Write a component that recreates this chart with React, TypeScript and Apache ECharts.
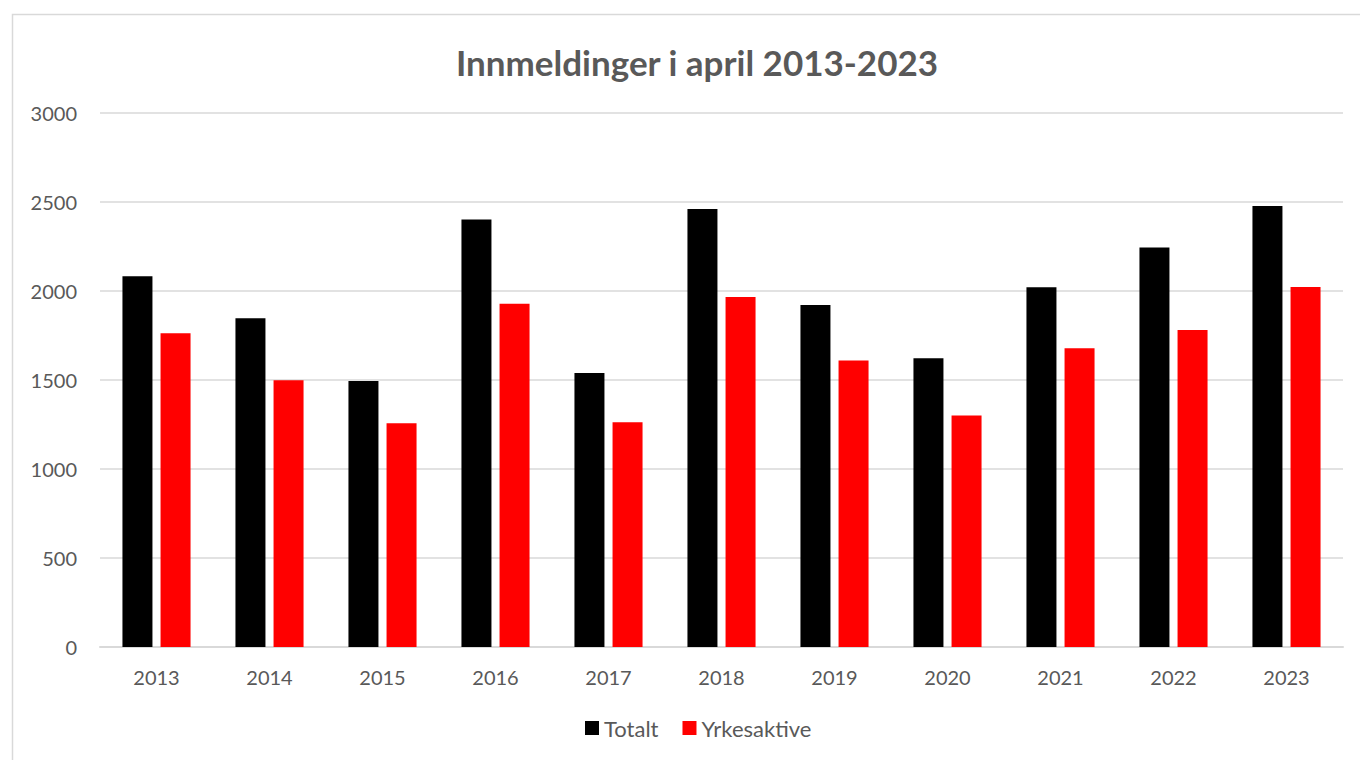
import React, { useEffect, useRef } from "react";
import * as echarts from "echarts";

const years = ["2013", "2014", "2015", "2016", "2017", "2018", "2019", "2020", "2021", "2022", "2023"];
const totalt = [2083, 1847, 1494, 2401, 1539, 2461, 1921, 1622, 2021, 2245, 2478];
const yrkesaktive = [1762, 1498, 1257, 1929, 1262, 1966, 1610, 1301, 1678, 1781, 2022];
const titleText = "Innmeldinger i april 2013-2023";

const FONT = "Lato, 'Open Sans', sans-serif";
const GRAY = "#595959";

export default function App() {
  const ref = useRef<HTMLDivElement>(null);
  useEffect(() => {
    document.body.style.margin = "0";
    const chart = echarts.init(ref.current!, null, { renderer: "svg" });
    chart.setOption({
      animation: false,
      backgroundColor: "#ffffff",
      title: {
        text: titleText,
        left: 692,
        top: 39,
        textAlign: "center",
        textStyle: { fontFamily: FONT, fontSize: 35, fontWeight: "bold", color: GRAY },
      },
      graphic: [
        {
          type: "rect",
          shape: { x: 12.5, y: 14.5, width: 1400, height: 800 },
          style: { fill: "none", stroke: "#d9d9d9", lineWidth: 1.5 },
          silent: true,
        },
      ],
      legend: {
        bottom: 16,
        left: 580,
        itemWidth: 14,
        itemHeight: 14,
        itemGap: 24,
        icon: "rect",
        textStyle: { fontFamily: FONT, fontSize: 22, color: GRAY },
        data: ["Totalt", "Yrkesaktive"],
      },
      grid: { left: 100, right: 17, top: 113, bottom: 113 },
      xAxis: {
        type: "category",
        data: years,
        axisLine: { lineStyle: { color: "#d9d9d9", width: 2 } },
        axisTick: { show: false },
        axisLabel: { fontFamily: FONT, fontSize: 20, color: GRAY, margin: 20 },
      },
      yAxis: {
        type: "value",
        min: 0,
        max: 3000,
        interval: 500,
        axisLine: { show: false },
        axisTick: { show: false },
        axisLabel: {
          fontFamily: FONT,
          fontSize: 20,
          color: GRAY,
          margin: 23,
          formatter: (v: number) => String(v),
        },
        splitLine: { lineStyle: { color: "#d9d9d9", width: 1.5 } },
      },
      series: [
        {
          name: "Totalt",
          type: "bar",
          data: totalt,
          barWidth: 30,
          barGap: "27%",
          itemStyle: { color: "#000000" },
        },
        {
          name: "Yrkesaktive",
          type: "bar",
          data: yrkesaktive,
          barWidth: 30,
          barGap: "27%",
          itemStyle: { color: "#ff0000" },
        },
      ],
    });
    return () => chart.dispose();
  }, []);
  return <div ref={ref} style={{ width: 1360, height: 760 }} />;
}
